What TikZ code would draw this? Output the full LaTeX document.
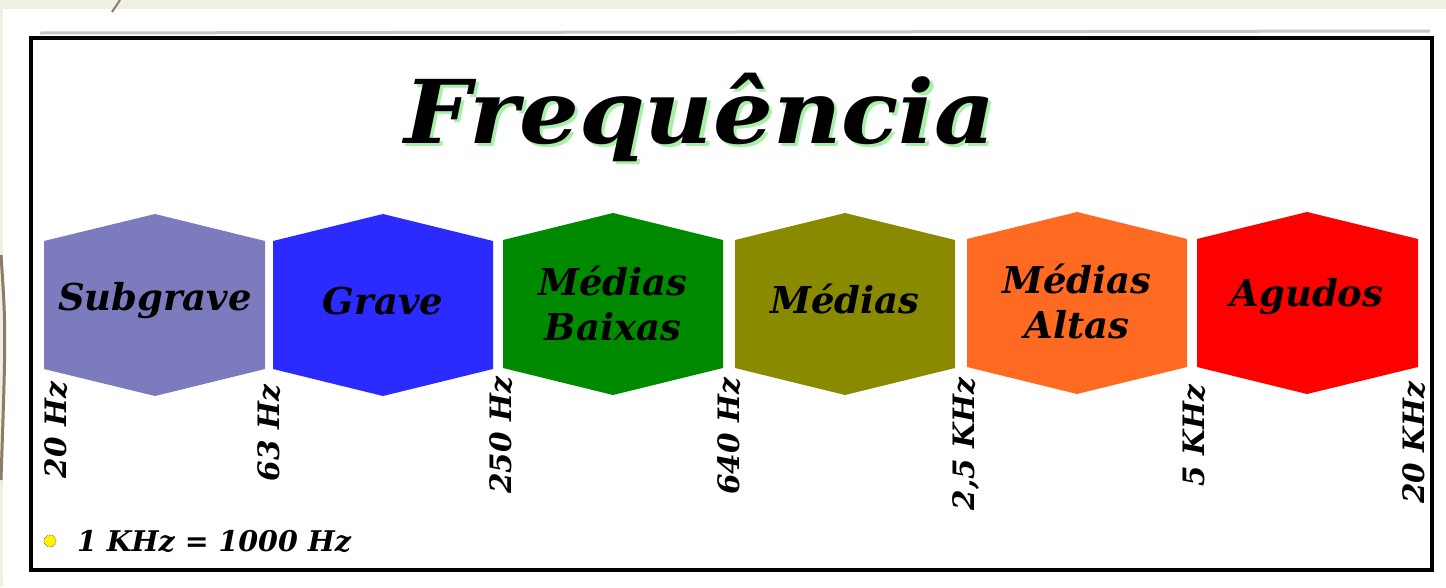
\documentclass[tikz,border=0pt]{standalone}
\usepackage{fontspec}
\setmainfont{DejaVu Serif}

\definecolor{paper}{HTML}{EFEFE3}
\definecolor{rim}{HTML}{8A7E66}
\definecolor{glow}{HTML}{A8F0A8}
\definecolor{cSub}{HTML}{7B7BBD}
\definecolor{cGrave}{HTML}{2B2BFF}
\definecolor{cMedBx}{HTML}{008A00}
\definecolor{cMed}{HTML}{8A8A00}
\definecolor{cMedAlt}{HTML}{FF6A22}
\definecolor{cAgudo}{HTML}{FF0000}

\begin{document}
\begin{tikzpicture}
          [x=1pt, y=-1pt,
           band/.style={draw=none},
           bandtext/.style={inner sep=0, align=center, font=\fontsize{37}{45}\selectfont\bfseries\itshape},
           freq/.style={inner sep=0, rotate=90, anchor=east, font=\fontsize{29.5}{32}\selectfont\bfseries\itshape},
           every draw/.style={line width=4pt, black}]

          \useasboundingbox (0,0) rectangle (1446,587);
          \fill[paper] (0,0) rectangle (1446,587);
          \fill[white] (3,9) rectangle (1446,587);
          \draw[rim, line width=2] (112,12) -- (120,0);
          \draw[rim, line width=3] (1,255) .. controls (6,330) .. (1,480);

          % frame
          \draw[gray!45, line width=3] (40,33) -- (1430,31);
          \draw[line width=4.5] (31,38) rectangle (1432,570);

          % title (with its green shadow)
          \node[inner sep=0, anchor=base, xscale=1.07, font=\fontsize{88}{92}\selectfont\bfseries\itshape] (t) at (700,143)
            {\rlap{\hspace{3pt}\raisebox{-3pt}{\color{glow}Frequência}}Frequência};

          % bands
          \fill[band, cSub] (44,241) -- (155,214) -- (265,241) -- (265,369) -- (155,396) -- (44,369) -- cycle;
          \fill[band, cGrave] (273,241) -- (383,214) -- (493,241) -- (493,369) -- (383,396) -- (273,369) -- cycle;
          \fill[band, cMedBx] (503,240) -- (613,213) -- (723,240) -- (723,368) -- (613,395) -- (503,368) -- cycle;
          \fill[band, cMed] (735,240) -- (845,213) -- (955,240) -- (955,368) -- (845,395) -- (735,368) -- cycle;
          \fill[band, cMedAlt] (967,239) -- (1077,212) -- (1187,239) -- (1187,367) -- (1077,394) -- (967,367) -- cycle;
          \fill[band, cAgudo] (1197,239) -- (1307,212) -- (1418,239) -- (1418,367) -- (1307,394) -- (1197,367) -- cycle;

          \node[bandtext] (b1) at (155,301) {Subgrave};
          \node[bandtext] (b2) at (383,301) {Grave};
          \node[bandtext] (b3) at (613,303) {Médias\\Baixas};
          \node[bandtext] (b4) at (845,299) {Médias};
          \node[bandtext] (b5) at (1077,301) {Médias\\Altas};
          \node[bandtext] (b6) at (1307,297) {Agudos};

          % limits
          \node[freq] (f1) at (56,382) {20 Hz};
          \node[freq] (f2) at (269,385) {63 Hz};
          \node[freq] (f3) at (501,377) {250 Hz};
          \node[freq] (f4) at (729,378) {640 Hz};
          \node[freq] (f5) at (966,378) {2,5 KHz};
          \node[freq] (f6) at (1194,385) {5 KHz};
          \node[freq] (f7) at (1414,382) {20 KHz};

          % note
          \node[draw=black!70, densely dotted, line width=0.6, fill=yellow, circle, inner sep=0, minimum size=12pt] (dot) at (50,541) {};
          \node[inner sep=0, anchor=base west, font=\fontsize{28.5}{32}\selectfont\bfseries\itshape] (note) at (77,551) {1 KHz = 1000 Hz};

        \end{tikzpicture}
\end{document}
